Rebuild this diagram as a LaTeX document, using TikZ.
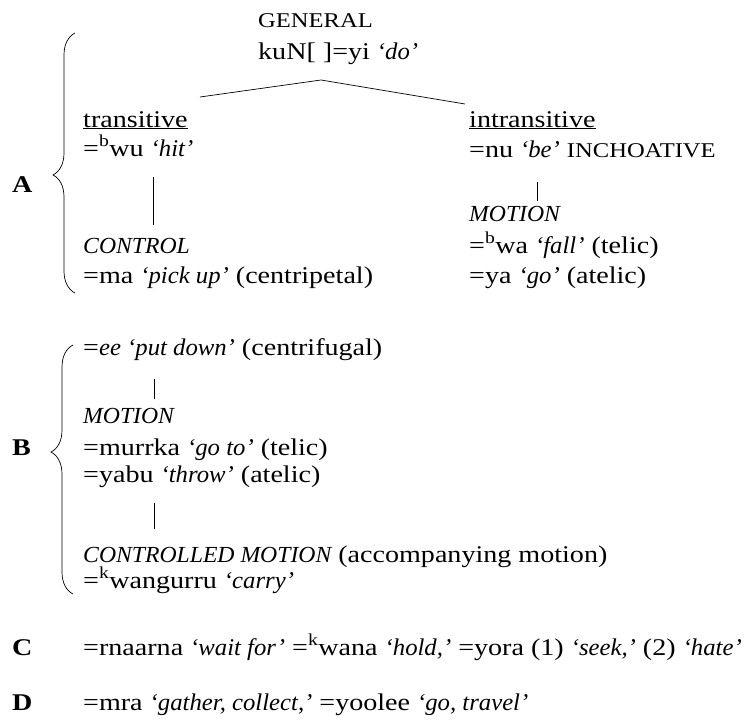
\documentclass[tikz,border=0pt]{standalone}
\usepackage{fontspec}
\setmainfont{Liberation Serif}[FakeStretch=1.17]
\newfontfamily\itfam{Liberation Serif}[FakeStretch=1.03]
\usetikzlibrary{decorations.pathreplacing}
\newcommand\capsz[1]{{\fontsize{21}{24}\selectfont #1}}
\newcommand\icaps[1]{{\itfam\itshape\fontsize{23}{26}\selectfont #1}}
\newcommand\gl[1]{{\itfam\itshape #1}}
\begin{document}
\begin{tikzpicture}[x=1pt,y=-1pt,
 txt/.style={anchor=base west,inner sep=0pt,font=\fontsize{24}{28}\selectfont},
 lbl/.style={anchor=base west,inner sep=0pt,font=\fontsize{24}{28}\selectfont\bfseries},
 link/.style={line width=0.7pt},
 brc/.style={decorate,line width=0.7pt}]
\useasboundingbox (0,0) rectangle (745,726);

% --- A ---
\node[txt] (gen) at (258,27) {\capsz{GENERAL}};
\node[txt] (kun) at (258,59) {kuN[ ]=yi \gl{‘do’}};
\coordinate (apex) at (321,80);
\coordinate (lend) at (200,97);
\coordinate (rend) at (465,104);
\draw[link] (lend) -- (apex) -- (rend);

\node[txt] (tr) at (83,127) {\underline{transitive}};
\node[txt] (intr) at (469,127) {\underline{intransitive}};
\node[txt] (bwu) at (83,156) {=\textsuperscript{b}wu \gl{‘hit’}};
\node[txt] (nu) at (469,157) {=nu \gl{‘be’} \capsz{INCHOATIVE}};

\coordinate (l1a) at (153,177);
\coordinate (l1b) at (153,225);
\draw[link] (l1a) -- (l1b);
\coordinate (r1a) at (537,182);
\coordinate (r1b) at (537,201);
\draw[link] (r1a) -- (r1b);

\node[txt] (motA) at (469,221) {\icaps{MOTION}};
\node[txt] (ctrl) at (83,253) {\icaps{CONTROL}};
\node[txt] (bwa) at (469,253) {=\textsuperscript{b}wa \gl{‘fall’} (telic)};
\node[txt] (ma) at (83,283) {=ma \gl{‘pick up’} (centripetal)};
\node[txt] (ya) at (469,283) {=ya \gl{‘go’} (atelic)};

\node[lbl] (A) at (12,192) {A};
\coordinate (bAbot) at (75,293);
\coordinate (bAtop) at (75,33);
\draw[brc,decoration={brace,amplitude=22pt,aspect=0.454}] (bAbot) -- (bAtop);

% --- B ---
\node[txt] (ee) at (83,355) {=\gl{ee ‘put down’} (centrifugal)};
\coordinate (l2a) at (154,379);
\coordinate (l2b) at (154,399);
\draw[link] (l2a) -- (l2b);
\node[txt] (motB) at (83,423) {\icaps{MOTION}};
\node[txt] (murrka) at (83,455) {=murrka \gl{‘go to’} (telic)};
\node[txt] (yabu) at (83,482) {=yabu \gl{‘throw’} (atelic)};
\coordinate (l3a) at (154,503);
\coordinate (l3b) at (154,529);
\draw[link] (l3a) -- (l3b);
\node[txt] (cm) at (83,562) {\icaps{CONTROLLED MOTION} (accompanying motion)};
\node[txt] (kw) at (83,588) {=\textsuperscript{k}wangurru \gl{‘carry’}};

\node[lbl] (B) at (12,455) {B};
\coordinate (bBbot) at (73,594);
\coordinate (bBtop) at (73,345);
\draw[brc,decoration={brace,amplitude=22pt,aspect=0.57}] (bBbot) -- (bBtop);

% --- C, D ---
\node[lbl] (C) at (12,655) {C};
\node[txt] (cline) at (83,655) {=rnaarna \gl{‘wait for’} =\textsuperscript{k}wana \gl{‘hold,’} =yora (1) \gl{‘seek,’} (2) \gl{‘hate’}};
\node[lbl] (D) at (12,710) {D};
\node[txt] (dline) at (83,710) {=mra \gl{‘gather, collect,’} =yoolee \gl{‘go, travel’}};
\end{tikzpicture}
\end{document}
